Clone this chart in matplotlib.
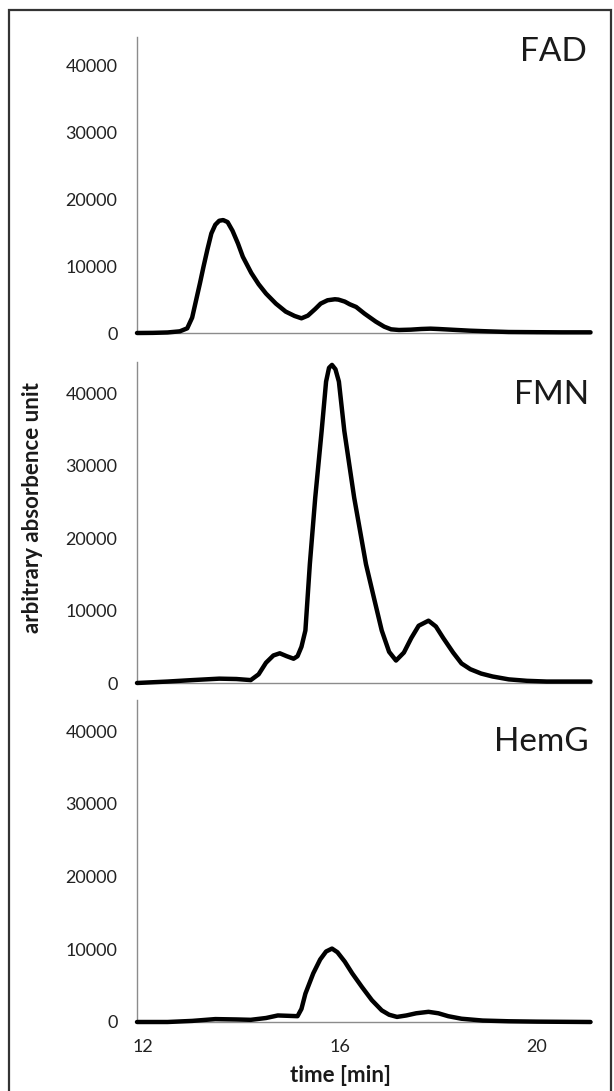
import matplotlib.pyplot as plt
from matplotlib.patches import Rectangle

plt.rcParams["font.family"] = ["Lato", "DejaVu Sans"]

# chromatogram traces (time in min, absorbance)
FAD_TIME = [11.88, 12.2, 12.5, 12.75, 12.9, 13.0, 13.08, 13.16, 13.23, 13.31,
            13.39, 13.47, 13.55, 13.63, 13.72, 13.82, 13.93, 14.03, 14.2, 14.35,
            14.5, 14.7, 14.9, 15.08, 15.22, 15.35, 15.5, 15.61, 15.75, 15.9,
            15.97, 16.1, 16.2, 16.33, 16.5, 16.73, 16.9, 17.04, 17.2, 17.44,
            17.65, 17.84, 18.0, 18.3, 18.63, 19.0, 19.43, 20.0, 20.5, 21.09]
FAD = [0, 20, 80, 250, 700, 2300, 4900, 7500, 9900, 12500,
       14900, 16200, 16800, 16900, 16600, 15300, 13400, 11400, 9000, 7300,
       5900, 4400, 3200, 2550, 2200, 2600, 3600, 4400, 4900, 5050,
       5000, 4700, 4300, 3900, 2900, 1700, 950, 550, 450, 500,
       600, 650, 600, 480, 350, 250, 150, 120, 100, 100]

FMN_TIME = [11.88, 12.5, 13.0, 13.55, 13.9, 14.19, 14.35, 14.5, 14.65, 14.78,
            14.92, 15.06, 15.14, 15.22, 15.30, 15.39, 15.50, 15.63, 15.72, 15.78,
            15.84, 15.91, 15.98, 16.09, 16.29, 16.53, 16.69, 16.85, 17.0, 17.14,
            17.3, 17.45, 17.6, 17.8, 17.95, 18.1, 18.3, 18.47, 18.65, 18.87,
            19.1, 19.43, 19.8, 20.2, 20.6, 21.09]
FMN = [0, 200, 400, 600, 550, 400, 1200, 2800, 3800, 4100,
       3700, 3350, 3700, 5000, 7250, 16400, 25600, 34800, 41600, 43500,
       43900, 43300, 41600, 34800, 25600, 16400, 11800, 7250, 4300, 3100,
       4200, 6200, 7900, 8600, 7800, 6200, 4200, 2700, 1900, 1300,
       900, 500, 300, 200, 200, 200]

HEMG_TIME = [11.88, 12.5, 13.0, 13.47, 13.9, 14.19, 14.5, 14.74, 14.95, 15.14,
             15.22, 15.30, 15.46, 15.6, 15.72, 15.84, 15.95, 16.1, 16.25, 16.45,
             16.65, 16.85, 17.0, 17.16, 17.35, 17.55, 17.8, 18.0, 18.2, 18.47,
             18.9, 19.43, 20.0, 21.09]
HEMG = [0, 0, 150, 400, 350, 300, 550, 900, 850, 800,
        1800, 3900, 6700, 8600, 9700, 10100, 9600, 8300, 6700, 4800,
        3000, 1600, 1000, 700, 900, 1200, 1400, 1200, 800, 450,
        200, 100, 50, 0]

NAMES = ["FAD", "FMN", "HemG"]
Y_TICKS = [0, 10000, 20000, 30000, 40000]
X_TICKS = [12, 16, 20]

W, H = 614, 1091


def fx(px):
    return px / W


def fy(py):
    return 1 - py / H


fig = plt.figure(figsize=(W / 100, H / 100), dpi=100)

# outer frame, open at the bottom edge of the picture
fig.patches.append(Rectangle((fx(9), fy(1110)), fx(602), 1100 / H,
                             transform=fig.transFigure, fill=False,
                             edgecolor="#333333", linewidth=1.6))

# panel boxes in pixels: (top, bottom)
boxes = [(37, 333), (362, 683), (700, 1022)]
label_pos = [(587, 52), (589, 395), (589, 742)]
traces = [(FAD_TIME, FAD), (FMN_TIME, FMN), (HEMG_TIME, HEMG)]

for i, name in enumerate(NAMES):
    top, bottom = boxes[i]
    ax = fig.add_axes([fx(137), fy(bottom), fx(591 - 137), (bottom - top) / H])
    t, v = traces[i]
    ax.plot(t, v, color="black", linewidth=3.2, solid_joinstyle="round",
            solid_capstyle="round", clip_on=False, zorder=3)
    ax.set_xlim(11.88, 21.1)
    ax.set_ylim(0, 44300)
    ax.set_yticks(Y_TICKS)
    ax.set_yticklabels([str(y) for y in Y_TICKS])
    ax.set_xticks(X_TICKS)
    if i == 2:
        ax.set_xticklabels([str(x) for x in X_TICKS])
    else:
        ax.set_xticklabels([])
    ax.tick_params(length=0, labelsize=13, labelcolor="#222222", pad=14)
    ax.tick_params(axis="x", pad=12)
    for side in ["top", "right"]:
        ax.spines[side].set_visible(False)
    for side in ["left", "bottom"]:
        ax.spines[side].set_color("#8c8c8c")
        ax.spines[side].set_linewidth(1.0)
    lx, ly = label_pos[i]
    fig.text(fx(lx), fy(ly), name, ha="right", va="center", fontsize=24,
             color="#1a1a1a")

fig.text(fx(33), fy(508), "arbitrary absorbence unit", rotation=90,
         ha="center", va="center", fontsize=16, fontweight="bold",
         color="#1a1a1a")
fig.text(fx(340), fy(1075), "time [min]", ha="center", va="center",
         fontsize=16, fontweight="bold", color="#1a1a1a")

fig.savefig("out.png", dpi=100)
